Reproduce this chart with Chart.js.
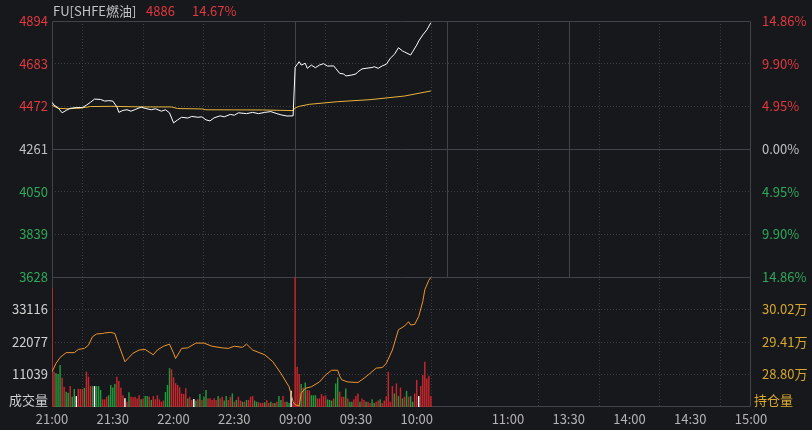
<!DOCTYPE html>
<html>
<head>
<meta charset="utf-8">
<script src="https://cdn.jsdelivr.net/npm/chart.js@4.4.0/dist/chart.umd.min.js"></script>
<style>
  html, body { margin: 0; background: #16181c; }
  #wrap { position: relative; width: 812px; height: 430px; }
  .hd { position: absolute; top: 1px; font: 13px "Noto Sans CJK SC", "Noto Sans", sans-serif; color: #c4c4c4; white-space: nowrap; }
  .up { color: #e0393e; }
</style>
</head>
<body>
<div id="wrap">
  <canvas id="chart" width="812" height="430"></canvas>
  <span class="hd" style="left:53px">FU[SHFE燃油]</span>
  <span class="hd up" style="left:146px">4886</span>
  <span class="hd up" style="left:192px">14.67%</span>
</div>
<script>
// x axis is minutes since 21:00 (night 21:00-23:00, then 09:00-10:15, 10:30-11:30, 13:30-15:00)
const timeTicks = [0, 30, 60, 90, 120, 150, 180, 195, 225, 255, 285, 315, 345];
const timeLabels = ['21:00', '21:30', '22:00', '22:30', '09:00', '09:30', '10:00', '', '11:00', '13:30', '14:00', '14:30', '15:00'];
const sessionBreaks = [120, 195, 255];

const preSettle = 4261;
const priceTicks = [3628, 3839, 4050, 4261, 4472, 4683, 4894];
const volTicks = [11039, 22077, 33116];
const volMax = 44155;
const oiTicks = [28.80, 29.41, 30.02];
const oiMin = 28.19, oiMax = 30.63;

// last price
const priceMin = [0,1,3,5,7,9,12,15,17,19,21,24,26,28,30,32,33,35,37,39,41,44,46,49,51,54,56,58,60,62,
  64,67,69,72,74,76,78,80,83,85,88,90,92,96,99,102,105,108,111,113,116,119,
  120,122,123,125,126,128,130,132,134,136,139,140,142,144,145,148,150,151,153,155,158,159,161,163,
  165,167,169,171,173,174,177,178,180,181,183,185,187];
const priceVal = [4492,4478,4465,4440,4452,4462,4466,4466,4478,4492,4508,4506,4498,4500,4498,4470,4442,4452,4455,4448,
  4456,4468,4462,4455,4460,4448,4455,4440,4390,4405,4418,4414,4422,4418,4420,4405,4400,4415,4425,4420,
  4432,4428,4440,4436,4442,4436,4442,4446,4436,4430,4424,4425,
  4665,4693,4676,4685,4660,4676,4663,4676,4683,4671,4672,4660,4635,4632,4622,4627,4632,4643,4657,4660,
  4664,4668,4660,4672,4680,4710,4729,4762,4746,4741,4726,4742,4775,4795,4825,4850,4886];

// average price
const avgMin = [0,3,8,14,19,29,45,59,62,74,76,104,119,120,122,127,141,157,174,187];
const avgVal = [4477,4462,4460,4463,4471,4472,4469,4469,4461,4459,4455,4454,4451,4464,4472,4482,4495,4505,4523,4548];

// open interest, in 万 lots
const oiMinute = [0,2,4,7,11,13,16,18,20,22,25,26,29,31,33,36,38,40,43,46,50,52,55,58,60,61,64,67,71,75,
  79,84,87,90,94,96,99,105,109,113,117,119,
  120,122,123,125,128,132,135,138,141,142,143,146,151,154,156,160,163,165,168,171,174,176,177,179,
  181,183,184,186,187];
const oiVal = [28.85,29.01,29.12,29.21,29.21,29.27,29.29,29.35,29.51,29.56,29.57,29.58,29.59,29.57,29.35,29.04,29.12,29.20,29.26,29.27,
  29.17,29.26,29.33,29.37,29.20,29.10,29.29,29.30,29.39,29.39,29.33,29.30,29.29,29.33,29.31,29.37,29.26,29.17,29.04,28.82,
  28.57,28.29,
  28.23,28.21,28.45,28.54,28.57,28.66,28.79,28.88,28.88,28.77,28.70,28.66,28.65,28.73,28.79,28.92,28.93,29.01,29.26,29.64,
  29.71,29.79,29.73,29.74,29.89,30.17,30.39,30.57,30.62];

// volume per minute (index = minute) and its tick direction: 1 up, -1 down, 0 flat
const volumes = [
  40400,12000,11500,11200,14300,9900,6900,5200,4800,7100,
  3500,6100,3700,6200,6100,6100,6500,12000,10300,7100,
  7100,7100,7100,7100,5800,2600,2600,3500,4000,7500,
  6600,7800,10300,8800,6500,4000,3000,1800,5000,3500,
  3300,3500,2900,4000,2600,2900,3700,3700,3500,2400,
  3700,2600,4000,2600,1800,2200,5100,7500,13200,12800,
  10100,8100,7500,6700,4600,4400,6400,2900,3500,2400,
  2700,2200,2600,4400,2400,3500,5800,2900,3000,2400,
  3000,2400,3700,2900,3500,2200,3700,2400,3500,4600,
  1800,2400,3500,2200,1800,1800,2400,2400,3500,3700,
  2200,1800,1600,1400,1400,1600,2400,1400,1800,1400,
  1400,1800,3700,2400,3700,1800,1800,1400,5500,1400,
  44155,13700,11200,7800,6500,8300,5800,5600,4000,4000,
  4000,2900,2900,4400,3700,4000,2600,2400,2200,2900,
  8000,10000,5200,3500,3500,6300,2900,1800,1800,2600,
  3700,4600,1800,2900,2400,1800,1800,1400,2600,1400,
  1800,2200,2600,1400,2200,3700,12000,1800,7100,4600,
  8000,3700,6600,2900,3500,5500,3500,3700,1800,4600,
  9200,3700,7100,10900,15400,9700,10600,3700];
const volDir = [
  1,1,-1,-1,-1,1,1,-1,-1,1,
  -1,-1,0,1,1,1,-1,1,1,1,
  -1,0,-1,-1,-1,1,1,1,-1,-1,
  -1,-1,1,1,1,1,0,1,-1,1,
  1,1,1,1,-1,1,-1,-1,1,-1,
  1,1,1,1,1,1,-1,-1,-1,1,
  1,1,1,1,1,1,1,-1,1,1,
  0,-1,1,-1,1,-1,-1,1,1,1,
  1,1,-1,1,1,-1,-1,1,1,-1,
  1,-1,1,1,-1,1,-1,1,1,1,
  -1,-1,1,1,1,-1,1,1,-1,1,
  -1,1,-1,-1,1,1,-1,-1,0,1,
  1,1,1,-1,1,-1,1,1,-1,-1,
  -1,1,1,1,1,1,-1,-1,-1,1,
  -1,-1,1,1,1,-1,1,-1,-1,1,
  1,1,-1,1,1,-1,1,1,-1,-1,
  1,1,-1,1,1,1,1,1,1,-1,
  1,-1,1,-1,1,-1,1,-1,-1,1,
  1,0,1,1,1,1,1,1];

const RED = '#e0393e', GREEN = '#2fa85a', GREY = '#c0c0c0', YELLOW = '#d9a82c';
const GRID = '#3a3d43', FRAME = '#40434a';
const FONT = { family: '"Noto Sans CJK SC", "Noto Sans", sans-serif', size: 13 };

const pts = (xs, ys) => xs.map((x, i) => ({ x, y: ys[i] }));
const priceColor = v => v > preSettle ? RED : (v < preSettle ? GREEN : GREY);

// solid frame, panel divider, 0% line and session breaks; side captions of the volume panel
const frame = {
  id: 'frame',
  beforeDatasetsDraw(chart) {
    const { ctx, chartArea: a, scales } = chart;
    const yDiv = Math.round(scales.yPrice.getPixelForValue(priceTicks[0])) + 0.5;
    const yZero = Math.round(scales.yPrice.getPixelForValue(preSettle)) + 0.5;
    ctx.save();
    ctx.strokeStyle = FRAME;
    ctx.lineWidth = 1;
    ctx.beginPath();
    [yDiv, yZero].forEach(y => { ctx.moveTo(a.left, y); ctx.lineTo(a.right, y); });
    sessionBreaks.forEach(m => {
      const x = Math.round(scales.x.getPixelForValue(m)) + 0.5;
      ctx.moveTo(x, a.top); ctx.lineTo(x, yDiv);
    });
    ctx.rect(a.left + 0.5, a.top + 0.5, a.width - 1, a.height - 1);
    ctx.stroke();
    ctx.restore();
  },
  afterDraw(chart) {
    const { ctx, chartArea: a } = chart;
    ctx.save();
    ctx.font = FONT.size + 'px ' + FONT.family;
    ctx.textBaseline = 'middle';
    ctx.textAlign = 'right';
    ctx.fillStyle = '#d0d0d0';
    ctx.fillText('成交量', a.left - 4, a.bottom - 7);
    ctx.textAlign = 'left';
    ctx.fillStyle = YELLOW;
    ctx.fillText('持仓量', a.right + 3, a.bottom - 7);
    ctx.restore();
  }
};

const fixTicks = list => scale => { scale.ticks = list.map(v => ({ value: v })); };

new Chart(document.getElementById('chart'), {
  type: 'line',
  data: {
    datasets: [
      { data: pts(priceMin, priceVal), yAxisID: 'yPrice', borderColor: '#ffffff', borderWidth: 1, order: 0 },
      { data: pts(avgMin, avgVal), yAxisID: 'yPrice', borderColor: '#e8b43a', borderWidth: 1, order: 1 },
      { data: pts(oiMinute, oiVal), yAxisID: 'yOI', borderColor: '#f0952e', borderWidth: 1, order: 2 },
      {
        type: 'bar', yAxisID: 'yVol', order: 3,
        data: volumes.map((v, i) => ({ x: i, y: v })),
        backgroundColor: volDir.map(d => d > 0 ? '#c8262c' : (d < 0 ? '#22993a' : '#ffffff')),
        barPercentage: 0.8, categoryPercentage: 0.9, grouped: false
      }
    ]
  },
  options: {
    responsive: false,
    animation: false,
    layout: { padding: { top: 21 } },
    elements: { point: { radius: 0 }, line: { tension: 0 } },
    plugins: { legend: { display: false }, tooltip: { enabled: false } },
    scales: {
      x: {
        type: 'linear', min: 0, max: 345, offset: false,
        afterBuildTicks: fixTicks(timeTicks),
        afterFit: s => { s.height = 23; },
        ticks: {
          autoSkip: false, maxRotation: 0, padding: 4, color: '#b4b4b4', font: FONT,
          callback: v => timeLabels[timeTicks.indexOf(v)]
        },
        grid: { color: GRID, drawTicks: false },
        border: { display: false, dash: [1, 2] }
      },
      // left stack is laid out in reverse order of definition, so the volume axis comes first
      yVol: {
        position: 'left', stack: 'L', stackWeight: 130, min: 0, max: volMax,
        afterBuildTicks: fixTicks(volTicks),
        afterFit: s => { s.width = 52; },
        ticks: { padding: 4, font: FONT, color: '#d0d0d0', callback: v => String(v) },
        grid: { drawTicks: false, color: GRID },
        border: { display: false, dash: [1, 2] }
      },
      yPrice: {
        position: 'left', stack: 'L', stackWeight: 256, min: priceTicks[0], max: priceTicks[6],
        afterBuildTicks: fixTicks(priceTicks),
        afterFit: s => { s.width = 52; },
        ticks: { padding: 4, font: FONT, color: c => priceColor(c.tick.value), callback: v => String(v) },
        grid: {
          drawTicks: false,
          color: c => [priceTicks[0], preSettle, priceTicks[6]].includes(c.tick.value) ? 'transparent' : GRID
        },
        border: { display: false, dash: [1, 2] }
      },
      yPct: {
        position: 'right', stack: 'R', stackWeight: 256, min: priceTicks[0], max: priceTicks[6],
        afterBuildTicks: fixTicks(priceTicks),
        afterFit: s => { s.width = 61; },
        ticks: {
          padding: 3, font: FONT, color: c => priceColor(c.tick.value),
          callback: v => Math.abs((v - preSettle) / preSettle * 100).toFixed(2) + '%'
        },
        grid: { display: false },
        border: { display: false }
      },
      yOI: {
        position: 'right', stack: 'R', stackWeight: 130, min: oiMin, max: oiMax,
        afterBuildTicks: fixTicks(oiTicks),
        afterFit: s => { s.width = 61; },
        ticks: { padding: 3, font: FONT, color: YELLOW, callback: v => v.toFixed(2) + '万' },
        grid: { display: false },
        border: { display: false }
      }
    }
  },
  plugins: [frame]
});
</script>
</body>
</html>
